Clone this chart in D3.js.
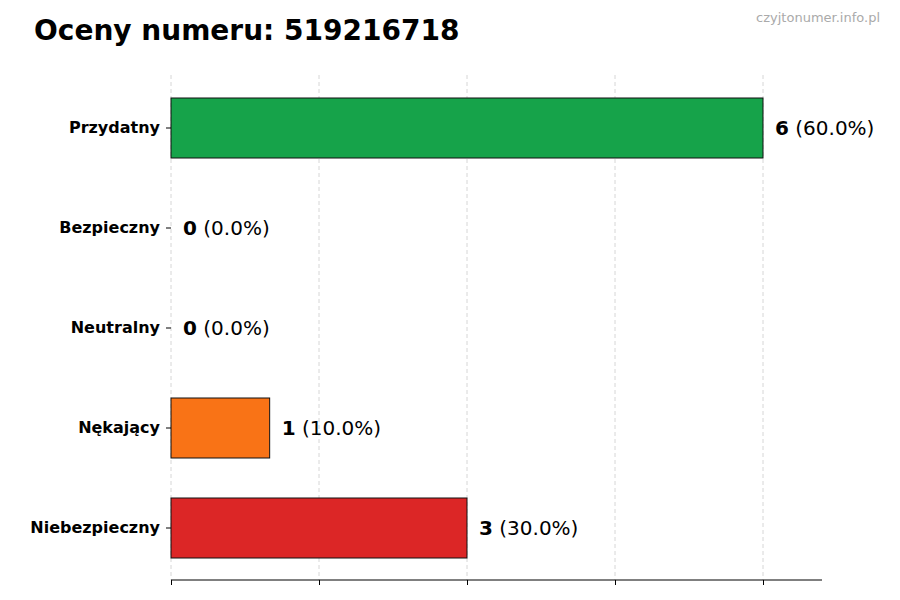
<!DOCTYPE html>
<html><head><meta charset="utf-8">
<script src="https://cdn.jsdelivr.net/npm/d3@7"></script>
<style>body{margin:0;background:#fff}svg{font-family:"DejaVu Sans",sans-serif}</style>
</head><body><svg width="900" height="600"></svg>
<script>
const categories = ["Przydatny", "Bezpieczny", "Neutralny", "Nękający", "Niebezpieczny"];
const counts = [6, 0, 0, 1, 3];
const colors = ["#16a34a", "#22c55e", "#9ca3af", "#f97316", "#dc2626"];
const xTicks = [0, 1.5, 3, 4.5, 6];
const total = d3.sum(counts);

const svg = d3.select("svg");
const x = d3.scaleLinear().domain([0, 6]).range([171, 763]);
const y = d3.scaleBand().domain(categories).range([78, 578]).paddingInner(0.4).paddingOuter(0.2);

svg.append("text").attr("x", 34).attr("y", 40).attr("font-size", 28).attr("font-weight", "bold").text("Oceny numeru: 519216718");
svg.append("text").attr("x", 880).attr("y", 22).attr("text-anchor", "end").attr("font-size", 13).attr("fill", "#aaa").text("czyjtonumer.info.pl");

svg.append("g").selectAll("line").data(xTicks).join("line")
  .attr("x1", d => x(d)).attr("x2", d => x(d)).attr("y1", 75).attr("y2", 580)
  .attr("stroke", "#ccc").attr("stroke-dasharray", "4,3").attr("stroke-width", 0.8);

svg.append("g").selectAll("rect").data(categories).join("rect")
  .attr("x", x(0)).attr("y", d => y(d)).attr("height", y.bandwidth())
  .attr("width", (d, i) => x(counts[i]) - x(0))
  .attr("fill", (d, i) => colors[i]).attr("stroke", "#111").attr("stroke-width", 1);

const lbl = svg.append("g").selectAll("text").data(categories).join("text")
  .attr("x", (d, i) => x(counts[i]) + 12).attr("y", d => y(d) + y.bandwidth() / 2)
  .attr("dy", "0.35em").attr("font-size", 20);
lbl.append("tspan").attr("font-weight", "bold").text((d, i) => counts[i]);
lbl.append("tspan").text((d, i) => " (" + (counts[i] / total * 100).toFixed(1) + "%)");

const ya = svg.append("g").attr("transform", "translate(171,0)")
  .call(d3.axisLeft(y).tickSize(5).tickPadding(6));
ya.select(".domain").remove();
ya.selectAll("text").attr("font-size", 16).attr("font-weight", "bold").attr("font-family", "DejaVu Sans");

const xa = svg.append("g").attr("transform", "translate(0,580)")
  .call(d3.axisBottom(x).tickValues(xTicks).tickFormat("").tickSize(5).tickSizeOuter(0));
xa.select(".domain").attr("d", "M171,0H822");
</script></body></html>
